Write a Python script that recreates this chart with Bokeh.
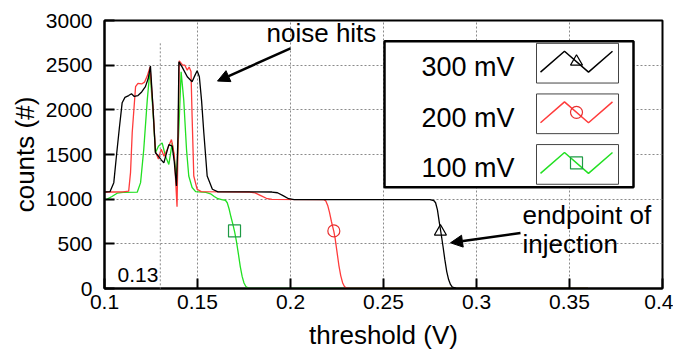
from bokeh.plotting import figure
from bokeh.models import (Arrow, NormalHead, Label, BoxAnnotation, FixedTicker,
                          Range1d)
from bokeh.embed import file_html
from bokeh.resources import INLINE

FONT = "Liberation Sans"

# ---------------- data ----------------
x_ticks = [0.1, 0.15, 0.2, 0.25, 0.3, 0.35, 0.4]
x_tick_labels = ["0.1", "0.15", "0.2", "0.25", "0.3", "0.35", "0.4"]
y_ticks = [0, 500, 1000, 1500, 2000, 2500, 3000]
y_tick_labels = ["0", "500", "1000", "1500", "2000", "2500", "3000"]

series_names = ["300 mV", "200 mV", "100 mV"]

thr_300 = [0.100, 0.103, 0.105, 0.1065, 0.108, 0.1095, 0.111, 0.113, 0.1145, 0.116,
           0.118, 0.120, 0.122, 0.1235, 0.1247, 0.126, 0.1274, 0.129, 0.1305, 0.1319,
           0.133, 0.1346, 0.1364, 0.1375, 0.1387, 0.1395, 0.1400, 0.1417, 0.1445, 0.1471,
           0.1485, 0.1498, 0.151, 0.1522, 0.1534, 0.1552, 0.158, 0.161, 0.190, 0.193,
           0.196, 0.199, 0.202, 0.275, 0.277, 0.278, 0.279, 0.280, 0.281, 0.282,
           0.283, 0.284, 0.285, 0.286, 0.287, 0.289, 0.291, 0.360]
cnt_300 = [1080, 1085, 1185, 1500, 1800, 2080, 2140, 2160, 2180, 2150,
           2160, 2200, 2260, 2350, 2489, 2050, 1520, 1481, 1440, 1407,
           1490, 1611, 1593, 1420, 1148, 1700, 2537, 2481, 2370, 2315,
           2380, 2437, 2370, 2100, 1744, 1259, 1111, 1082, 1080, 1072,
           1040, 1005, 995, 995, 985, 960, 880, 740, 610, 470,
           320, 190, 100, 45, 15, 3, 0, 0]

thr_200 = [0.100, 0.105, 0.110, 0.113, 0.114, 0.1149, 0.1167, 0.118, 0.120, 0.1215,
           0.123, 0.1245, 0.126, 0.1274, 0.129, 0.1305, 0.132, 0.1336, 0.136, 0.1375,
           0.139, 0.1396, 0.1402, 0.142, 0.1432, 0.1445, 0.1455, 0.1465, 0.1471, 0.148,
           0.1498, 0.152, 0.178, 0.181, 0.184, 0.187, 0.190, 0.218, 0.219, 0.220,
           0.221, 0.222, 0.2233, 0.224, 0.225, 0.226, 0.227, 0.228, 0.229, 0.230,
           0.232, 0.360]
cnt_200 = [1080, 1080, 1082, 1090, 1300, 1744, 2259, 2296, 2290, 2310,
           2380, 2480, 2050, 1530, 1450, 1560, 1480, 1550, 1667, 1500,
           915, 1700, 2548, 2500, 2500, 2444, 2480, 2430, 1926, 1259,
           1111, 1085, 1080, 1070, 1040, 1010, 997, 995, 980, 930,
           850, 750, 640, 560, 410, 260, 145, 65, 22, 6,
           0, 0]

thr_100 = [0.100, 0.1014, 0.104, 0.1068, 0.110, 0.1176, 0.1194, 0.1211, 0.123, 0.1244,
           0.126, 0.1274, 0.129, 0.131, 0.1328, 0.1346, 0.1364, 0.1376, 0.1388, 0.140,
           0.1412, 0.1426, 0.1441, 0.1453, 0.1471, 0.149, 0.1545, 0.157, 0.159, 0.161,
           0.163, 0.165, 0.166, 0.167, 0.168, 0.169, 0.170, 0.171, 0.172, 0.173,
           0.174, 0.175, 0.176, 0.1775, 0.179, 0.360]
cnt_100 = [995, 1000, 1030, 1067, 1075, 1078, 1185, 1555, 2111, 2437,
           2000, 1520, 1593, 1630, 1480, 1389, 1630, 1444, 1250, 1800,
           2426, 2111, 1555, 1259, 1130, 1085, 1075, 1060, 1030, 1005,
           995, 988, 960, 890, 800, 720, 630, 520, 385, 245,
           135, 62, 22, 3, 0, 0]

# endpoint-of-injection markers (threshold, counts)
marker_thr = [0.2806, 0.2233, 0.1699]
marker_cnt = [637, 645, 645]

threshold_mark = 0.13
threshold_mark_text = "0.13"

# ---------------- style ----------------
colors = ["#000000", "#ff3b3b", "#22e022"]
marker_colors = ["#000000", "#e83030", "#1f9a45"]
markers = ["triangle", "circle", "square"]

X0, X1, Y0, Y1 = 0.1, 0.4, 0, 3000
FL, FR, FT, FB = 104, 662, 20, 290  # frame pixel edges


def dx(px):
    return X0 + (px - FL) * (X1 - X0) / (FR - FL)


def dy(py):
    return Y0 + (FB - py) * (Y1 - Y0) / (FB - FT)


p = figure(width=673, height=352, output_backend="svg", toolbar_location=None,
           x_range=Range1d(X0, X1), y_range=Range1d(Y0, Y1),
           min_border_left=FL, min_border_right=673 - FR,
           min_border_top=FT, min_border_bottom=352 - FB)
p.background_fill_color = "white"
p.border_fill_color = "white"
p.outline_line_color = "black"
p.outline_line_width = 2
p.outline_line_alpha = 1.0

for ax in (p.xaxis[0], p.yaxis[0]):
    ax.axis_line_width = 2
    ax.major_tick_in = 10
    ax.major_tick_out = 0
    ax.major_tick_line_width = 2
    ax.minor_tick_line_color = None
    ax.major_label_text_font = FONT
    ax.major_label_text_font_size = "21px"
    ax.major_label_text_color = "black"
    ax.axis_label_text_font = FONT
    ax.axis_label_text_font_size = "26px"
    ax.axis_label_text_font_style = "normal"
    ax.axis_label_text_color = "black"

p.xaxis.ticker = FixedTicker(ticks=x_ticks)
p.yaxis.ticker = FixedTicker(ticks=y_ticks)
p.xaxis.major_label_overrides = {t: l for t, l in zip(x_ticks, x_tick_labels)}
p.yaxis.major_label_overrides = {t: l for t, l in zip(y_ticks, y_tick_labels)}
p.xaxis.axis_label = "threshold (V)"
p.yaxis.axis_label = "counts (#)"
p.xaxis.major_label_standoff = 6
p.yaxis.major_label_standoff = 12
p.xaxis.axis_label_standoff = 8
p.yaxis.axis_label_standoff = 3

for g in (p.xgrid[0], p.ygrid[0]):
    g.grid_line_color = "#8a8a8a"
    g.grid_line_dash = "2 2"
    g.grid_line_width = 1

# threshold marker line at 0.13
p.add_layout(Arrow(end=None, x_start=threshold_mark, y_start=dy(43),
                   x_end=threshold_mark, y_end=dy(326),
                   line_color="#8a8a8a", line_dash="2 2", line_width=1))
p.add_layout(Label(x=dx(117), y=dy(283), text=threshold_mark_text,
                   text_font=FONT, text_font_size="21px", text_color="black"))

# curves (green, red, black so black ends on top)
series = [(thr_300, cnt_300), (thr_200, cnt_200), (thr_100, cnt_100)]
for i in (2, 1, 0):
    xs, ys = series[i]
    p.line(xs, ys, line_color=colors[i], line_width=1.3)
for i in range(3):
    p.scatter([marker_thr[i]], [marker_cnt[i]], marker=markers[i], size=12,
              fill_color=None, line_color=marker_colors[i], line_width=1.2)

# annotations
p.add_layout(Label(x=dx(266), y=dy(48), text="noise hits", text_font=FONT,
                   text_font_size="26px", text_color="black"))
p.add_layout(Arrow(end=NormalHead(size=12, fill_color="black", line_color="black"),
                   x_start=dx(290), y_start=dy(48), x_end=dx(217), y_end=dy(81),
                   line_width=2.5, line_color="black"))
p.add_layout(Label(x=dx(522), y=dy(231), text="endpoint of", text_font=FONT,
                   text_font_size="26px", text_color="black"))
p.add_layout(Label(x=dx(522), y=dy(260), text="injection", text_font=FONT,
                   text_font_size="26px", text_color="black"))
p.add_layout(Arrow(end=NormalHead(size=12, fill_color="black", line_color="black"),
                   x_start=dx(520), y_start=dy(234), x_end=dx(450), y_end=dy(244),
                   line_width=2.5, line_color="black"))

# custom legend (label left, sample right)
p.add_layout(BoxAnnotation(left=dx(384), right=dx(633), top=dy(41), bottom=dy(188),
                           fill_color="white", fill_alpha=1.0,
                           line_color="black", line_alpha=1.0, line_width=2.5))
for i, name in enumerate(series_names):
    off = 51 * i
    bottom = min(83 + off, 188)
    p.add_layout(BoxAnnotation(left=dx(536), right=dx(618), top=dy(43 + off),
                               bottom=dy(bottom), fill_alpha=0.0,
                               line_color="#444444", line_alpha=1.0, line_width=1))
    p.add_layout(Label(x=dx(514), y=dy(67 + off), text=name, text_font=FONT,
                       text_font_size="27px", text_color="black",
                       text_align="right", text_baseline="middle"))
    zx = [dx(540), dx(564), dx(588), dx(612)]
    zy = [dy(72 + off), dy(51 + off), dy(72 + off), dy(51 + off)]
    p.line(zx, zy, line_color=colors[i], line_width=1.5, level="overlay")
    p.scatter([dx(576)], [dy(61.5 + off)], marker=markers[i], size=12,
              fill_color=None, line_color=marker_colors[i], line_width=1.2,
              level="overlay")

open("out.html", "w").write(file_html(p, INLINE))
